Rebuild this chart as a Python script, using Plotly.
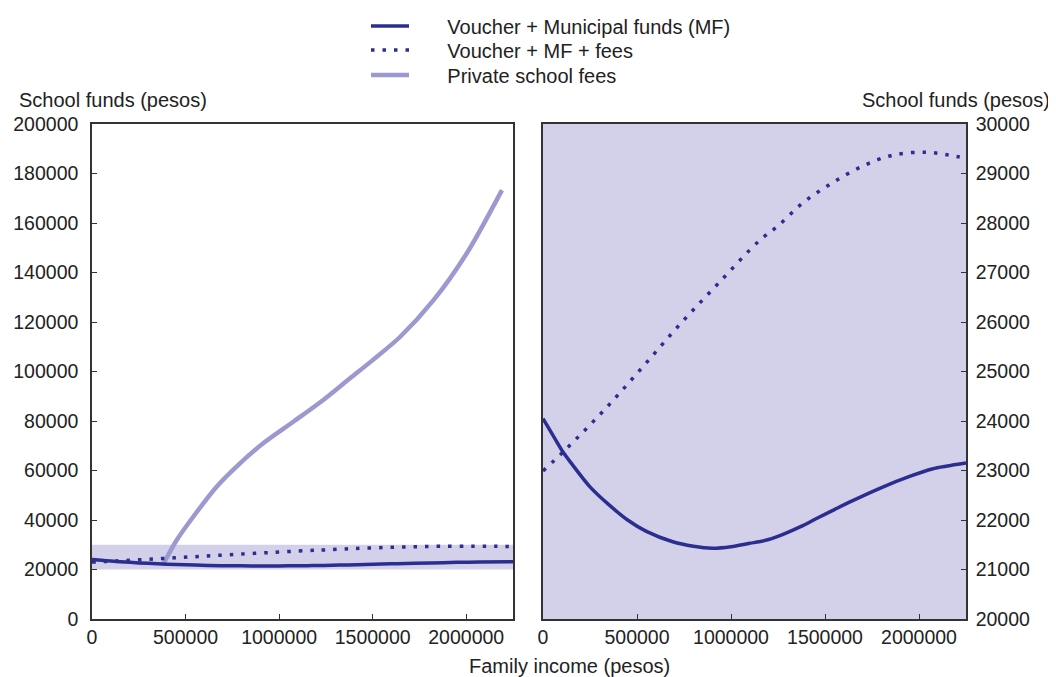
import plotly.graph_objects as go

# ---- data ----
income_mf = [0, 50000, 100000, 150000, 250000, 350000, 450000, 550000, 690000, 800000, 900000,
             1000000, 1100000, 1150000, 1200000, 1280000, 1370000, 1460000, 1550000, 1630000,
             1810000, 1950000, 2070000, 2250000]
funds_mf = [24050, 23730, 23410, 23150, 22670, 22310, 22000, 21770, 21560, 21470, 21430,
            21460, 21530, 21560, 21605, 21715, 21865, 22040, 22210, 22360,
            22670, 22880, 23030, 23150]

income_mf_fees = [0, 130000, 330000, 530000, 730000, 940000, 1150000, 1250000, 1380000,
                  1530000, 1690000, 1860000, 2040000, 2160000, 2250000]
funds_mf_fees = [22990, 23460, 24240, 25090, 25960, 26810, 27640, 27940, 28400,
                 28790, 29130, 29370, 29430, 29370, 29310]

income_fees = [378000, 453000, 541000, 666000, 791000, 915000, 1076000, 1236000, 1379000,
               1500000, 1646000, 1822000, 2004000, 2191000]
private_fees = [21800, 31900, 41300, 53450, 62900, 71000, 79700, 88500, 97240,
                104600, 113940, 128500, 147900, 173300]

x_ticks = [0, 500000, 1000000, 1500000, 2000000]
y1_ticks = [0, 20000, 40000, 60000, 80000, 100000, 120000, 140000, 160000, 180000, 200000]
y2_ticks = [20000, 21000, 22000, 23000, 24000, 25000, 26000, 27000, 28000, 29000, 30000]
band = [20000, 30000]

names = ["Voucher + Municipal funds (MF)", "Voucher + MF + fees", "Private school fees"]

DARK = "#2b2e8f"
LIGHT = "#9b99cf"
SHADE = "#d3d1ea"
AXC = "#333333"
TXT = "#222222"
FONT = "Liberation Sans, Arial, sans-serif"
DOT = "3.5px,8px"
PAD = "\u00a0" * 6

fig = go.Figure()

# left panel
fig.add_trace(go.Scatter(x=income_fees, y=private_fees, mode="lines",
                         line=dict(color=LIGHT, width=4.5, shape="spline", smoothing=0.8),
                         name=names[2], showlegend=False, xaxis="x", yaxis="y"))
fig.add_trace(go.Scatter(x=income_mf_fees, y=funds_mf_fees, mode="lines",
                         line=dict(color=DARK, width=3.5, dash=DOT, shape="spline"),
                         name=names[1], showlegend=False, xaxis="x", yaxis="y"))
fig.add_trace(go.Scatter(x=income_mf, y=funds_mf, mode="lines",
                         line=dict(color=DARK, width=3.5, shape="spline", smoothing=0.8),
                         name=names[0], showlegend=False, xaxis="x", yaxis="y"))

# right panel
fig.add_trace(go.Scatter(x=income_mf_fees, y=funds_mf_fees, mode="lines",
                         line=dict(color=DARK, width=3.5, dash=DOT, shape="spline"),
                         name=names[1], showlegend=False, xaxis="x2", yaxis="y2"))
fig.add_trace(go.Scatter(x=income_mf, y=funds_mf, mode="lines",
                         line=dict(color=DARK, width=3.5, shape="spline", smoothing=0.8),
                         name=names[0], showlegend=False, xaxis="x2", yaxis="y2"))

# legend entries (one legend box per entry for exact spacing)
fig.add_trace(go.Scatter(x=[None], y=[None], mode="lines", line=dict(color=DARK, width=3.5),
                         name=PAD + names[0], xaxis="x2", yaxis="y2", legend="legend"))
fig.add_trace(go.Scatter(x=[None], y=[None], mode="lines", line=dict(color=DARK, width=3.5, dash=DOT),
                         name=PAD + names[1], xaxis="x2", yaxis="y2", legend="legend2"))
fig.add_trace(go.Scatter(x=[None], y=[None], mode="lines", line=dict(color=LIGHT, width=4.5),
                         name=PAD + names[2], xaxis="x2", yaxis="y2", legend="legend3"))

axis_common = dict(showline=True, linecolor=AXC, linewidth=1.5, mirror=True, ticks="inside",
                   ticklen=5, tickcolor=AXC, showgrid=False, zeroline=False, automargin=False,
                   tickfont=dict(size=19.5, color=TXT, family=FONT), tickformat="d")

W, H = 1048, 669
L, R, T, B = 84, 90, 116, 58
PW, PH = W - L - R, H - T - B


def px(page_x):
    return (page_x - 8 - L) / PW


def py(page_y):
    return 1 - (page_y - 8 - T) / PH


leg_common = dict(xanchor="left", yanchor="middle", bgcolor="rgba(0,0,0,0)", borderwidth=0,
                  font=dict(size=20, family=FONT, color=TXT), itemwidth=38)

fig.update_layout(
    width=W, height=H,
    margin=dict(l=L, r=R, t=T, b=B, autoexpand=False),
    paper_bgcolor="white", plot_bgcolor="white",
    font=dict(family=FONT, size=20, color=TXT),
    xaxis=dict(domain=[0, 421 / PW], range=[0, 2250000], tickvals=x_ticks, anchor="y", **axis_common),
    yaxis=dict(domain=[0, 1], range=[0, 200000], tickvals=y1_ticks, anchor="x", ticklabelstandoff=8,
               **axis_common),
    xaxis2=dict(domain=[451 / PW, 1], range=[0, 2250000], tickvals=x_ticks, anchor="y2", **axis_common),
    yaxis2=dict(domain=[0, 1], range=[20000, 30000], tickvals=y2_ticks, anchor="x2", side="right",
                ticklabelstandoff=4, **axis_common),
    legend=dict(x=px(366), y=py(26), **leg_common),
    legend2=dict(x=px(366), y=py(50), **leg_common),
    legend3=dict(x=px(366), y=py(75), **leg_common),
    shapes=[
        dict(type="rect", xref="x domain", yref="y", x0=0, x1=1, y0=band[0], y1=band[1],
             fillcolor=SHADE, line=dict(width=0), layer="below"),
        dict(type="rect", xref="x2 domain", yref="y2 domain", x0=0, x1=1, y0=0, y1=1,
             fillcolor=SHADE, line=dict(width=0), layer="below"),
    ],
    annotations=[
        dict(text="School funds (pesos)", xref="paper", yref="paper", x=px(17), y=py(100),
             xanchor="left", yanchor="middle", showarrow=False, font=dict(size=20)),
        dict(text="School funds (pesos)", xref="paper", yref="paper", x=px(1052), y=py(100),
             xanchor="right", yanchor="middle", showarrow=False, font=dict(size=20)),
        dict(text="Family income (pesos)", xref="paper", yref="paper", x=px(569), y=py(666),
             xanchor="center", yanchor="middle", showarrow=False, font=dict(size=20)),
    ],
)

fig.write_html("out.html")
